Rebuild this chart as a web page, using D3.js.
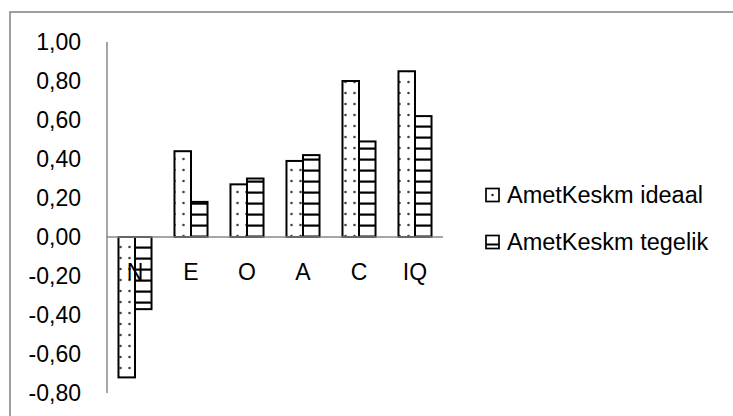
<!DOCTYPE html>
<html><head><meta charset="utf-8">
<script src="https://cdn.jsdelivr.net/npm/d3@7"></script>
<style>body{margin:0;background:#fff}svg{display:block}</style>
</head><body>
<script>
const categories = ["N","E","O","A","C","IQ"];
const seriesNames = ["AmetKeskm ideaal","AmetKeskm tegelik"];
const ideaal = [-0.72, 0.44, 0.27, 0.39, 0.80, 0.85];
const tegelik = [-0.37, 0.18, 0.30, 0.42, 0.49, 0.62];
const yTicks = [1.0,0.8,0.6,0.4,0.2,0,-0.2,-0.4,-0.6,-0.8];

const W = 733, H = 416;
const svg = d3.select("body").append("svg").attr("width",W).attr("height",H);
const defs = svg.append("defs");
const pd = defs.append("pattern").attr("id","dots").attr("patternUnits","userSpaceOnUse")
  .attr("width",9).attr("height",11);
pd.append("rect").attr("width",9).attr("height",11).attr("fill","#fff");
pd.append("circle").attr("cx",3.5).attr("cy",5).attr("r",1.3).attr("fill","#444");
const pl = defs.append("pattern").attr("id","lines").attr("patternUnits","userSpaceOnUse")
  .attr("width",16).attr("height",11);
pl.append("rect").attr("width",16).attr("height",11).attr("fill","#fff");
pl.append("rect").attr("y",4.5).attr("width",16).attr("height",2.2).attr("fill","#000");

const font = "'Liberation Sans', Arial, sans-serif";
// outer border
svg.append("rect").attr("x",10).attr("y",12).attr("width",740).attr("height",420)
  .attr("fill","none").attr("stroke","#888").attr("stroke-width",1.6);

const y = d3.scaleLinear().domain([-0.8,1.0]).range([393,42]);
const x = d3.scaleBand().domain(categories).range([107,443]).padding(0);
const bw = x.bandwidth()*0.295;

// y tick labels
svg.append("g").selectAll("text").data(yTicks).join("text")
  .attr("x",81).attr("y",d=>y(d)+8).attr("text-anchor","end")
  .attr("font-family",font).attr("font-size",23).attr("fill","#000")
  .text(d=>d3.format(".2f")(d).replace(".",",").replace("−","-"));

const series = [{name:seriesNames[0],vals:ideaal,fill:"url(#dots)",off:-1},
                {name:seriesNames[1],vals:tegelik,fill:"url(#lines)",off:0}];
series.forEach(s=>{
  svg.append("g").selectAll("rect").data(categories).join("rect")
    .attr("x",(c)=>x(c)+x.bandwidth()/2+s.off*bw)
    .attr("width",bw)
    .attr("y",(c,i)=>y(Math.max(0,s.vals[i])))
    .attr("height",(c,i)=>Math.abs(y(s.vals[i])-y(0)))
    .attr("fill",s.fill).attr("stroke","#000").attr("stroke-width",2);
});

// axes lines
svg.append("line").attr("x1",107).attr("x2",107).attr("y1",y(1.0)).attr("y2",y(-0.8))
  .attr("stroke","#888").attr("stroke-width",1.5);
svg.append("line").attr("x1",107).attr("x2",443).attr("y1",y(0)).attr("y2",y(0))
  .attr("stroke","#888").attr("stroke-width",1.5);

// category labels
svg.append("g").selectAll("text").data(categories).join("text")
  .attr("x",c=>x(c)+x.bandwidth()/2).attr("y",280).attr("text-anchor","middle")
  .attr("font-family",font).attr("font-size",23).attr("fill","#000").text(c=>c);

// legend
const leg = svg.append("g");
const ly = [195, 242];
series.forEach((s,i)=>{
  const g = leg.append("g");
  g.append("rect").attr("x",486).attr("y",ly[i]-6.5).attr("width",13).attr("height",13)
    .attr("fill","#fff").attr("stroke","#000").attr("stroke-width",1.7);
  if(i===0){
    g.append("circle").attr("cx",492.5).attr("cy",ly[i]).attr("r",1.3).attr("fill","#333");
  } else {
    g.append("rect").attr("x",486).attr("y",ly[i]+1.5).attr("width",13).attr("height",2).attr("fill","#000");
  }
  leg.append("text").attr("x",507).attr("y",ly[i]+8).attr("font-family",font)
    .attr("font-size",23.5).attr("fill","#000").text(s.name);
});
</script>
</body></html>
